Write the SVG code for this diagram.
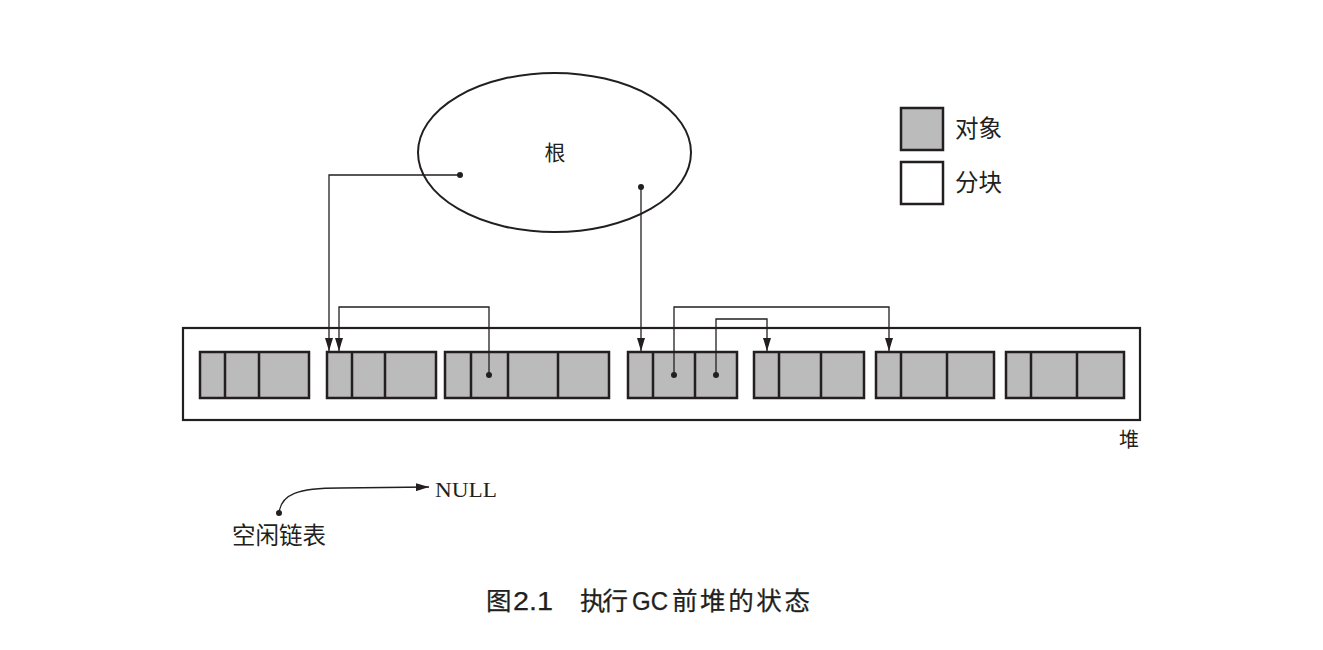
<svg xmlns="http://www.w3.org/2000/svg" width="1323" height="650" viewBox="0 0 1323 650">
<style>
.obj{fill:#bbbbbb;stroke:#231f20;stroke-width:2.5}
.div{stroke:#231f20;stroke-width:2.5}
.conn{fill:none;stroke:#231f20;stroke-width:1.3}
.dot{fill:#231f20}
.lbl{font-family:"Liberation Serif","Noto Sans CJK SC",serif;fill:#231f20}
.cjk{font-family:"Noto Sans CJK SC",sans-serif;fill:#231f20}
.cap{font-family:"Liberation Sans","Noto Sans CJK SC",sans-serif;fill:#231f20;stroke:#231f20;stroke-width:0.25}
</style>
<defs>
<marker id="arr" viewBox="0 0 13 8" refX="13" refY="4" markerWidth="13" markerHeight="8" markerUnits="userSpaceOnUse" orient="auto">
<path d="M0,0 L13,4 L0,8 z" fill="#231f20"/>
</marker>
</defs>
<rect width="1323" height="650" fill="#ffffff"/>

<g id="root">
<ellipse cx="554.5" cy="152.5" rx="136.5" ry="79.5" fill="none" stroke="#231f20" stroke-width="2"/>
<text x="555" y="160" class="cjk" font-size="21" text-anchor="middle">根</text>
</g>

<g id="legend">
<rect x="901" y="108" width="42" height="42" class="obj"/>
<text x="955" y="137" class="cjk" font-size="23.5">对象</text>
<rect x="901" y="162" width="42" height="42" fill="#ffffff" stroke="#231f20" stroke-width="2.5"/>
<text x="955" y="191" class="cjk" font-size="23.5">分块</text>
</g>

<g id="heap">
<rect x="183" y="328" width="957" height="92" fill="none" stroke="#231f20" stroke-width="2.2"/>
<text x="1129" y="447" class="cjk" font-size="20" text-anchor="middle">堆</text>
</g>

<g id="block1">
<rect x="200" y="352" width="109" height="46" class="obj"/>
<line x1="225" y1="352" x2="225" y2="398" class="div"/>
<line x1="259" y1="352" x2="259" y2="398" class="div"/>
</g>
<g id="block2">
<rect x="327" y="352" width="109" height="46" class="obj"/>
<line x1="352" y1="352" x2="352" y2="398" class="div"/>
<line x1="385" y1="352" x2="385" y2="398" class="div"/>
</g>
<g id="block3">
<rect x="445" y="352" width="164" height="46" class="obj"/>
<line x1="471" y1="352" x2="471" y2="398" class="div"/>
<line x1="508" y1="352" x2="508" y2="398" class="div"/>
<line x1="558" y1="352" x2="558" y2="398" class="div"/>
</g>
<g id="block4">
<rect x="628" y="352" width="109" height="46" class="obj"/>
<line x1="653" y1="352" x2="653" y2="398" class="div"/>
<line x1="695" y1="352" x2="695" y2="398" class="div"/>
</g>
<g id="block5">
<rect x="754" y="352" width="110" height="46" class="obj"/>
<line x1="779" y1="352" x2="779" y2="398" class="div"/>
<line x1="821" y1="352" x2="821" y2="398" class="div"/>
</g>
<g id="block6">
<rect x="876" y="352" width="118" height="46" class="obj"/>
<line x1="901" y1="352" x2="901" y2="398" class="div"/>
<line x1="947" y1="352" x2="947" y2="398" class="div"/>
</g>
<g id="block7">
<rect x="1006" y="352" width="118" height="46" class="obj"/>
<line x1="1031" y1="352" x2="1031" y2="398" class="div"/>
<line x1="1077" y1="352" x2="1077" y2="398" class="div"/>
</g>

<g id="connectors">
<path d="M460,175 H329 V351" class="conn" marker-end="url(#arr)"/>
<path d="M641,187 V351" class="conn" marker-end="url(#arr)"/>
<path d="M489,375 V307 H339 V351" class="conn" marker-end="url(#arr)"/>
<path d="M674,375 V307 H889 V351" class="conn" marker-end="url(#arr)"/>
<path d="M716,375 V319 H767 V351" class="conn" marker-end="url(#arr)"/>
<path d="M279,513 C281,494 298,488 340,488 L429,487" class="conn" marker-end="url(#arr)"/>
<circle cx="460" cy="175" r="3" class="dot"/>
<circle cx="641" cy="187" r="3" class="dot"/>
<circle cx="489" cy="375" r="3" class="dot"/>
<circle cx="674" cy="375" r="3" class="dot"/>
<circle cx="716" cy="375" r="3" class="dot"/>
<circle cx="279" cy="513" r="3" class="dot"/>
</g>

<g id="freelist">
<text x="435" y="497" class="lbl" font-size="22" textLength="62" lengthAdjust="spacingAndGlyphs">NULL</text>
<text x="232" y="544" class="cjk" font-size="23.5">空闲链表</text>
</g>

<g id="caption">
<text y="610" class="cap" font-size="25"><tspan x="486" font-size="25.5">图</tspan><tspan x="513" textLength="40" lengthAdjust="spacingAndGlyphs">2.1</tspan><tspan x="580" textLength="48" font-size="25.5">执行</tspan><tspan x="632" textLength="36" lengthAdjust="spacingAndGlyphs">GC</tspan><tspan x="672" textLength="138" font-size="25.5">前堆的状态</tspan></text>
</g>
</svg>
